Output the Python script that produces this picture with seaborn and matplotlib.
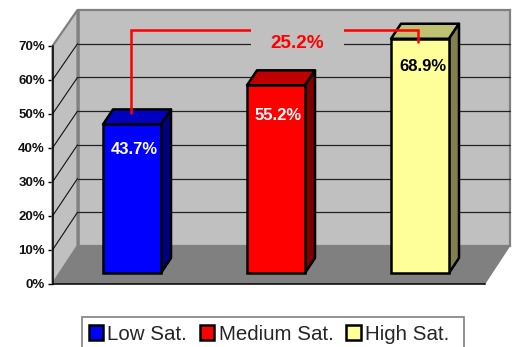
import matplotlib
matplotlib.use("Agg")
import matplotlib.pyplot as plt
from matplotlib.patches import Patch, Polygon, Rectangle
import seaborn as sns

# Saturated-fat groups and their share of respondents (percent)
categories = ["Low Sat.", "Medium Sat.", "High Sat."]
values = [43.7, 55.2, 68.9]
value_labels = ["43.7%", "55.2%", "68.9%"]
y_ticks = [0, 10, 20, 30, 40, 50, 60, 70]
tick_labels = ["0%", "10%", "20%", "30%", "40%", "50%", "60%", "70%"]
difference_label = "25.2%"

# Styling for each bar
label_colors = ["white", "white", "black"]
label_drops = [7.4, 8.8, 8.2]
front_colors = ["#0000ff", "#ff0000", "#ffff99"]
top_colors = ["#0000c0", "#c00000", "#c0c073"]
side_colors = ["#000080", "#800000", "#808050"]

WIDTH, HEIGHT = 513, 347
DPI = 100
FONT = "Liberation Sans"

sns.set_theme(style="white")
plt.rcParams["font.family"] = FONT

fig = plt.figure(figsize=(WIDTH / DPI, HEIGHT / DPI), dpi=DPI, facecolor="white")


def axes_from_pixels(left, right, top, bottom):
    return fig.add_axes([left / WIDTH, 1 - bottom / HEIGHT,
                         (right - left) / WIDTH, (bottom - top) / HEIGHT])


# Frame axes: the front plane of the chart box, one x unit per pixel
frame = axes_from_pixels(52.5, 484.5, 46, 284)
frame.set_xlim(0, 432)
frame.set_ylim(0, 70)
frame.patch.set_visible(False)

PX = 70 / 238  # data units per vertical pixel
depth_x = 25


def back_y(v):
    # The rear wall is slightly compressed relative to the front plane
    return 38 * PX + v * (236 / 238)


wall_top = back_y(70)
frame.add_patch(Rectangle((depth_x, back_y(0)), 432, wall_top - back_y(0), fc="#c0c0c0",
                          ec="#808080", lw=1.6, clip_on=False, zorder=1))
frame.add_patch(Polygon([(0, 0), (depth_x, back_y(0)), (depth_x, wall_top), (0, 70)],
                        fc="#c0c0c0", ec="#808080", lw=1.6, clip_on=False, zorder=1))
frame.add_patch(Polygon([(0, 0), (432, 0), (432 + depth_x, back_y(0)), (depth_x, back_y(0))],
                        fc="#808080", ec="none", clip_on=False, zorder=2))
frame.plot([432, 432 + depth_x], [0, back_y(0)], color="#808080", lw=1.0, clip_on=False, zorder=2)
frame.plot([depth_x, depth_x], [back_y(0), wall_top], color="#808080", lw=1.8, clip_on=False, zorder=3)

for v in y_ticks[1:-1]:
    frame.plot([0, depth_x], [v, back_y(v)], color="#111111", lw=0.8, clip_on=False, zorder=3)
    frame.plot([depth_x, 432 + depth_x], [back_y(v), back_y(v)], color="#222222", lw=0.9,
               clip_on=False, zorder=3)

frame.set_xticks([])
frame.set_yticks(y_ticks)
frame.set_yticklabels(tick_labels, fontsize=9.5, fontweight="bold", color="#111111")
frame.tick_params(axis="y", left=True, length=3.6, width=1.0, color="black", pad=1.8)
sns.despine(ax=frame, top=True, right=True)
for side in ("left", "bottom"):
    frame.spines[side].set_color("black")
    frame.spines[side].set_linewidth(1.1)
    frame.spines[side].set_zorder(4)

# Bar axes: same vertical scale, with its baseline set back on the floor
bars = axes_from_pixels(60, 492, 35, 273)
bars.patch.set_visible(False)
sns.barplot(x=categories, y=values, hue=categories, palette=front_colors, dodge=False,
            width=58 / 144, saturation=1, edgecolor="black", linewidth=1.8,
            legend=False, ax=bars, zorder=5)
# Category centres sit 144 px apart, the first at x = 132 px
bars.set_xlim((60 - 132) / 144, (492 - 132) / 144)
bars.set_ylim(0, 70)
bars.axis("off")

bar_dx = 10 / 144
bar_dy = 15 * PX
for patch, value, top_c, side_c, text, text_c, drop in zip(bars.patches, values, top_colors, side_colors,
                                                           value_labels, label_colors, label_drops):
    patch.set_clip_on(False)
    x0 = patch.get_x()
    x1 = x0 + patch.get_width()
    bars.add_patch(Polygon([(x0, value), (x1, value), (x1 + bar_dx, value + bar_dy), (x0 + bar_dx, value + bar_dy)],
                           fc=top_c, ec="black", lw=1.8, clip_on=False, zorder=4, joinstyle="round"))
    bars.add_patch(Polygon([(x1, 0), (x1 + bar_dx, bar_dy), (x1 + bar_dx, value + bar_dy), (x1, value)],
                           fc=side_c, ec="black", lw=1.8, clip_on=False, zorder=4, joinstyle="round"))
    bars.text((x0 + x1) / 2 + 2.5 / 144, value - drop, text, color=text_c, fontsize=12, fontweight="bold",
              ha="center", va="center", zorder=7, clip_on=False)

# Bracket showing the gap between the low and high groups, broken by its label
bars.plot([-1 / 144, -1 / 144, 2 - 2 / 144, 2 - 2 / 144], [47.0, 71.6, 71.6, 68.0], color="#ff0000", lw=1.8,
          solid_joinstyle="miter", clip_on=False, zorder=8)
bars.add_patch(Rectangle((119 / 144, 64.0), 93 / 144, 8.6, fc="#c0c0c0", ec="none", clip_on=False, zorder=9))
bars.text(165.5 / 144, 67.5, difference_label, color="#ff0000", fontsize=13.6, fontweight="bold",
          ha="center", va="center", zorder=10, clip_on=False)

# Legend box runs off the lower edge of the figure
fig.add_artist(Rectangle((82 / WIDTH, -3 / HEIGHT), 382 / WIDTH, 33 / HEIGHT, transform=fig.transFigure,
                         fc="white", ec="#808080", lw=1.2, zorder=1))
handles = [Patch(facecolor=c, edgecolor="black", linewidth=1.8, label=n) for c, n in zip(front_colors, categories)]
legend = fig.legend(handles=handles, loc="upper left", bbox_to_anchor=(88.5 / WIDTH, 1 - 324.5 / HEIGHT),
                    borderaxespad=0, borderpad=0, ncol=3, fontsize=14.8, frameon=False,
                    handlelength=0.7, handleheight=0.7, handletextpad=0.22, columnspacing=0.62)
legend.set_zorder(2)

fig.savefig("out.png", dpi=DPI, facecolor="white")
